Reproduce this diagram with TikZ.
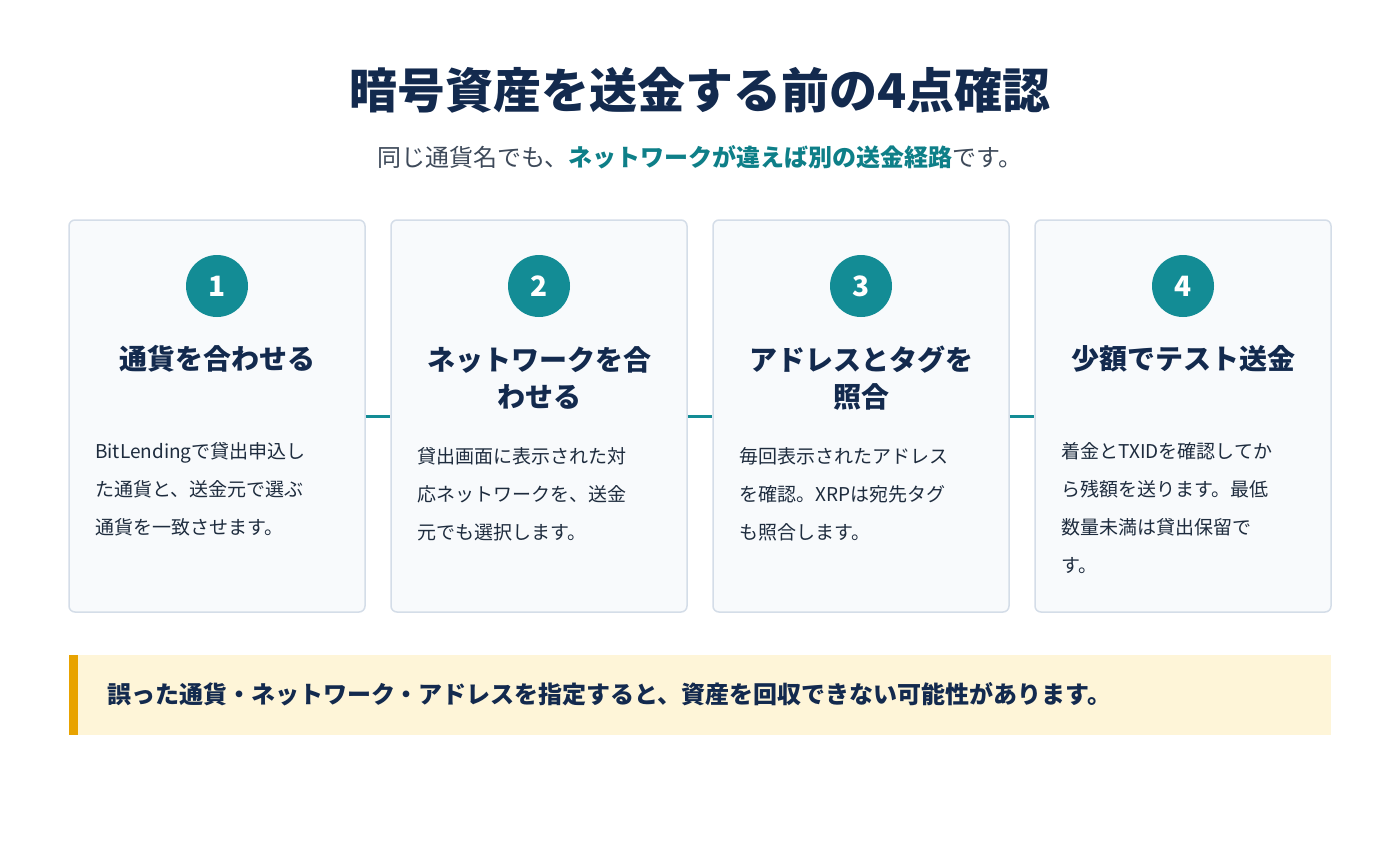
\documentclass[tikz,border=0pt]{standalone}
\usepackage{fontspec}
\setmainfont{Noto Sans CJK JP}
\usetikzlibrary{positioning}
\definecolor{navy}{HTML}{132A4E}
\definecolor{subgray}{HTML}{3E4A5A}
\definecolor{bodyink}{HTML}{1E2C3E}
\definecolor{tealc}{HTML}{138C95}
\definecolor{tealtext}{HTML}{0E7F88}
\definecolor{cardfill}{HTML}{F8FAFC}
\definecolor{cardline}{HTML}{D4DDE8}
\definecolor{warnfill}{HTML}{FEF5D8}
\definecolor{warnbar}{HTML}{E8A300}

\begin{document}
\begin{tikzpicture}[x=1pt,y=-1pt,
  card/.style={draw=cardline,line width=1.5pt,fill=cardfill,rounded corners=6pt,
    minimum width=296pt,minimum height=392pt,inner sep=0pt},
  badge/.style={circle,fill=tealc,minimum size=62pt,inner sep=0pt,text=white,
    font=\fontsize{28}{28}\bfseries\selectfont},
  ctitle/.style={text=navy,align=center,inner sep=0pt,
    font=\fontsize{28}{37}\bfseries\selectfont},
  cbody/.style={text=bodyink,align=left,anchor=north west,inner sep=0pt,
    font=\fontsize{19}{38}\selectfont},
  link/.style={draw=tealc,line width=3pt}]
% 			page
			\fill[white] (0,0) rectangle (1400,860);
			\useasboundingbox (0,0) rectangle (1400,860);
			\node[text=navy,font=\fontsize{48}{48}\bfseries\selectfont] (title) at (700,90) {暗号資産を送金する前の4点確認};
			\node[text=subgray,font=\fontsize{24}{24}\selectfont] (subtitle) at (700,157) {同じ通貨名でも、\textbf{\color{tealtext}ネットワークが違えば別の送金経路}です。};

			\foreach \k/\x in {1/217,2/539,3/861,4/1183}
			{
			\node[card] (c\k) at (\x,416) {};
			\node[badge] (n\k) at (\x,286) {\k};
			}
			\foreach \a/\b in {1/2,2/3,3/4}
			\draw[link] (c\a) -- (c\b);

			\node[ctitle] (t1) at (217,359) {通貨を合わせる};
			\node[ctitle] (t2) at (539,378) {ネットワークを合\\わせる};
			\node[ctitle] (t3) at (861,378) {アドレスとタグを\\照合};
			\node[ctitle] (t4) at (1183,359) {少額でテスト送金};

			\node[cbody] (b1) at (95,442) {BitLendingで貸出申込し\\た通貨と、送金元で選ぶ\\通貨を一致させます。};
			\node[cbody] (b2) at (417,447) {貸出画面に表示された対\\応ネットワークを、送金\\元でも選択します。};
			\node[cbody] (b3) at (739,447) {毎回表示されたアドレス\\を確認。XRPは宛先タグ\\も照合します。};
			\node[cbody] (b4) at (1061,442) {着金とTXIDを確認してか\\ら残額を送ります。最低\\数量未満は貸出保留で\\す。};

% 			warning strip
			\node[fill=warnfill,minimum width=1262pt,minimum height=80pt,inner sep=0pt] (warn) at (700,695) {};
			\fill[warnbar] (warn.north west) rectangle ([xshift=9pt]warn.south west);
			\node[anchor=west,inner sep=0pt,text=navy,font=\fontsize{24}{24}\bfseries\selectfont] (warntext) at (107,694) {誤った通貨・ネットワーク・アドレスを指定すると、資産を回収できない可能性があります。};
\end{tikzpicture}
\end{document}
